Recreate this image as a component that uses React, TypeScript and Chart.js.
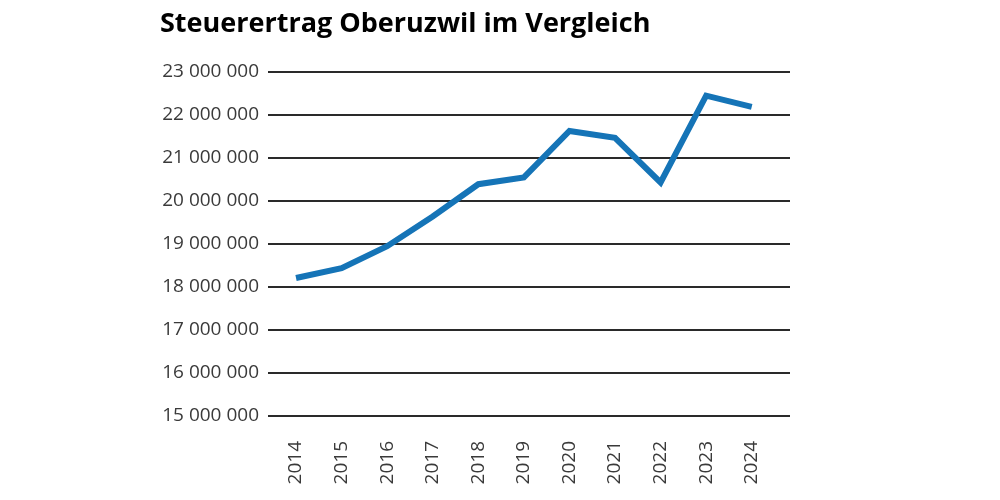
import React, { useEffect, useRef } from "react";
import { Chart, registerables } from "chart.js";

Chart.register(...registerables);

const titleText = "Steuerertrag Oberuzwil im Vergleich";
const years = [2014, 2015, 2016, 2017, 2018, 2019, 2020, 2021, 2022, 2023, 2024];
const steuerertrag = [
  18210000, 18440000, 18950000, 19640000, 20390000, 20550000, 21630000, 21470000, 20430000, 22450000, 22190000,
];
const yTicks = [15000000, 16000000, 17000000, 18000000, 19000000, 20000000, 21000000, 22000000, 23000000];

const fmt = (v: number) => Math.round(v).toString().replace(/\B(?=(\d{3})+(?!\d))/g, " ");

export default function App() {
  const ref = useRef<HTMLCanvasElement | null>(null);
  useEffect(() => {
    if (!ref.current) return;
    const chart = new Chart(ref.current, {
      type: "line",
      data: {
        datasets: [
          {
            data: years.map((y, i) => ({ x: y, y: steuerertrag[i] })),
            borderColor: "#1574b7",
            borderWidth: 6,
            pointRadius: 0,
            tension: 0,
            borderJoinStyle: "miter",
            borderCapStyle: "butt",
          },
        ],
      },
      options: {
        animation: false,
        responsive: false,
        maintainAspectRatio: false,
        layout: { padding: { left: 160, right: 210, top: 8, bottom: 0 } },
        plugins: {
          legend: { display: false },
          tooltip: { enabled: false },
          title: {
            display: true,
            text: titleText,
            align: "start",
            color: "#000",
            font: { family: "Open Sans", size: 27, weight: "bold", lineHeight: 1.2 },
            padding: { top: 0, bottom: 31.6 },
          },
        },
        scales: {
          x: {
            type: "linear",
            min: 2013.385,
            max: 2024.84,
            afterBuildTicks: (axis: any) => {
              axis.ticks = years.map((v) => ({ value: v }));
            },
            afterFit: (axis: any) => {
              axis.height = 84;
            },
            grid: { display: false, drawTicks: false },
            border: { display: false },
            ticks: {
              minRotation: 90,
              maxRotation: 90,
              autoSkip: false,
              padding: 25,
              color: "#3a3a3a",
              font: { family: "Open Sans", size: 19 },
              callback: (v: any) => String(v),
            },
          },
          y: {
            min: 15000000,
            max: 23000000,
            afterBuildTicks: (axis: any) => {
              axis.ticks = yTicks.map((v) => ({ value: v }));
            },
            afterFit: (axis: any) => {
              axis.width = 108;
            },
            grid: { color: "#2a2a2a", lineWidth: 2, drawTicks: false },
            border: { display: false },
            ticks: {
              padding: 9,
              color: "#3a3a3a",
              font: { family: "Open Sans", size: 19 },
              callback: (v: any) => fmt(Number(v)),
            },
          },
        },
      },
    });
    return () => chart.destroy();
  }, []);
  return (
    <div style={{ position: "fixed", left: 0, top: 0, width: 1000, height: 500, background: "#fff" }}>
      <canvas ref={ref} width={1000} height={500} style={{ width: 1000, height: 500 }} />
    </div>
  );
}
